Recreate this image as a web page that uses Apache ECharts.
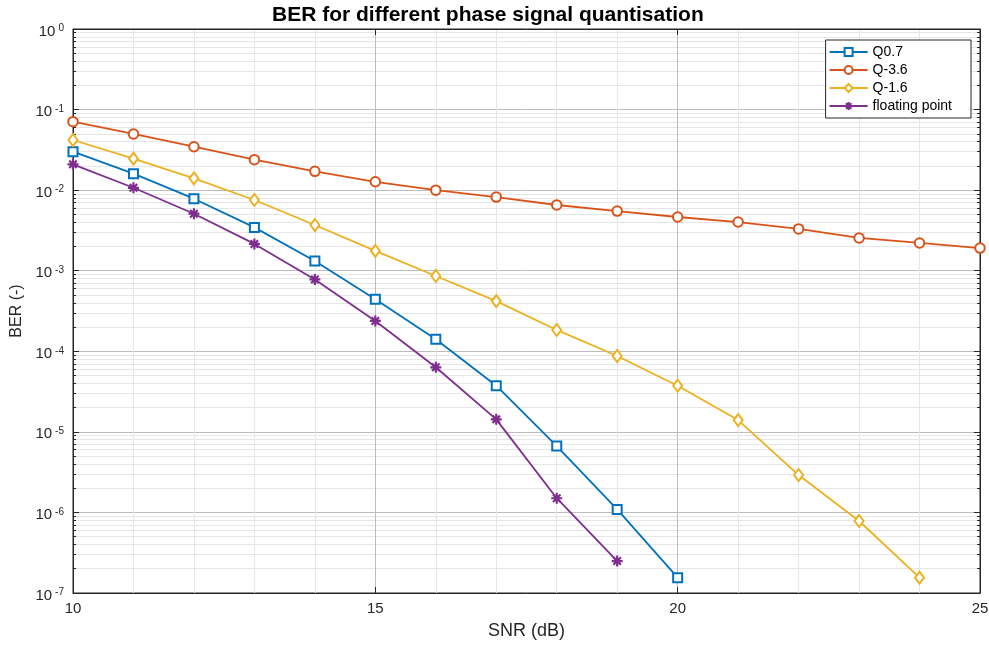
<!DOCTYPE html>
<html>
<head>
<meta charset="utf-8">
<script src="https://cdn.jsdelivr.net/npm/echarts@6/dist/echarts.min.js"></script>
<style>html,body{margin:0;padding:0;background:#fff;}#c{width:989px;height:646px;}</style>
</head>
<body>
<div id="c"></div>
<script>
// SNR values (dB)
const snr = [10, 11, 12, 13, 14, 15, 16, 17, 18, 19, 20, 21, 22, 23, 24, 25];
// BER series
const q07 = [0.030, 0.016, 0.00783, 0.00345, 0.00132, 0.000442, 0.000141, 3.74e-5, 6.67e-6, 1.09e-6, 1.55e-7];
const q36 = [0.0708, 0.0498, 0.0346, 0.0239, 0.0171, 0.0127, 0.0100, 0.0082, 0.00654, 0.0055, 0.00464, 0.00402, 0.0033, 0.00255, 0.00221, 0.00191];
const q16 = [0.0419, 0.0246, 0.0140, 0.00755, 0.00369, 0.00176, 0.00086, 0.00042, 0.000184, 8.74e-5, 3.74e-5, 1.40e-5, 2.91e-6, 7.83e-7, 1.55e-7];
const fp = [0.0209, 0.0107, 0.0051, 0.00215, 0.00078, 2.38e-4, 6.33e-5, 1.43e-5, 1.50e-6, 2.49e-7];
const seriesNames = ['Q0.7', 'Q-3.6', 'Q-1.6', 'floating point'];
// tick labels
const xTicks = [10, 15, 20, 25];
const yDecades = [1e-7, 1e-6, 1e-5, 1e-4, 1e-3, 1e-2, 1e-1, 1];
const yMinor = [];
for (let e = -7; e < 0; e++) { for (let m = 2; m <= 9; m++) { yMinor.push(m * Math.pow(10, e)); } }

const FONT = 'Liberation Sans, Arial, Helvetica, sans-serif';
const AX = '#262626';
const MAJOR = '#bdbdbd';
const MINOR = '#e6e6e6';
const colors = ['#0072BD', '#D95319', '#EDB120', '#7E2F8E'];
const star = 'path://M5 0 L5 10 M0 5 L10 5 M1.6 1.6 L8.4 8.4 M1.6 8.4 L8.4 1.6';
const LW = 1.8;

function pairs(vals) { return vals.map((v, i) => [snr[i], v]); }

const chart = echarts.init(document.getElementById('c'), null, { renderer: 'canvas' });

const logBase = {
  type: 'log', logBase: 10, min: 1e-7, max: 1, gridIndex: 0
};

chart.setOption({
  animation: false,
  backgroundColor: '#fff',
  textStyle: { fontFamily: FONT },
  title: {
    text: 'BER for different phase signal quantisation',
    left: 267, top: 0,
    textStyle: { fontFamily: FONT, fontSize: 21, fontWeight: 'bold', color: '#000' }
  },
  grid: {
    left: 73, right: 9, top: 29, bottom: 53,
    outerBoundsMode: 'none', containLabel: false,
    show: true, borderColor: AX, borderWidth: 1, backgroundColor: 'transparent'
  },
  legend: {
    data: seriesNames,
    orient: 'vertical',
    right: 18, top: 40,
    backgroundColor: '#fff',
    borderColor: AX, borderWidth: 1,
    padding: [5, 19, 5, 3],
    itemWidth: 38, itemHeight: 10, itemGap: 4,
    textStyle: { fontFamily: FONT, fontSize: 14, color: '#000', lineHeight: 14 }
  },
  xAxis: [
    {
      type: 'value', min: 10, max: 25, interval: 5,
      name: 'SNR (dB)', nameLocation: 'middle', nameGap: 29,
      nameTextStyle: { fontFamily: FONT, fontSize: 18, color: AX },
      axisLine: { show: true, lineStyle: { color: AX, width: 1 } },
      axisTick: { show: true, inside: true, length: 6, lineStyle: { color: AX } },
      axisLabel: { fontFamily: FONT, fontSize: 15, color: AX, margin: 8,
        customValues: xTicks },
      splitLine: { show: true, lineStyle: { color: MAJOR, width: 1 } },
      minorTick: { show: false, splitNumber: 5 },
      minorSplitLine: { show: true, lineStyle: { color: MINOR, width: 1 } }
    },
    {
      type: 'value', min: 10, max: 25, interval: 5, position: 'top',
      axisLine: { show: true, lineStyle: { color: AX, width: 1 } },
      axisTick: { show: true, inside: true, length: 6, lineStyle: { color: AX } },
      axisLabel: { show: false },
      splitLine: { show: false }
    }
  ],
  yAxis: [
    Object.assign({}, logBase, {
      position: 'left', interval: 1,
      name: 'BER (-)', nameLocation: 'middle', nameGap: 45, nameRotate: 90,
      nameTextStyle: { fontFamily: FONT, fontSize: 16, color: AX },
      axisLine: { show: true, lineStyle: { color: AX, width: 1 } },
      axisTick: { show: true, inside: true, length: 6, lineStyle: { color: AX } },
      axisLabel: {
        margin: 9,
        formatter: function (v) {
          const e = Math.round(Math.log10(v));
          return '{b|10}{s|' + e + '}';
        },
        rich: {
          b: { fontFamily: FONT, fontSize: 15, lineHeight: 15, color: AX, padding: [5, 0, 0, 0] },
          s: { fontFamily: FONT, fontSize: 10, lineHeight: 10, color: AX, verticalAlign: 'top', padding: [2, 0, 0, 3] }
        }
      },
      splitLine: { show: true, lineStyle: { color: MAJOR, width: 1 } }
    }),
    Object.assign({}, logBase, {
      position: 'right', interval: 1,
      axisLine: { show: true, lineStyle: { color: AX, width: 1 } },
      axisTick: { show: true, inside: true, length: 6, lineStyle: { color: AX } },
      axisLabel: { show: false },
      splitLine: { show: false }
    }),
    Object.assign({}, logBase, {
      position: 'left',
      axisLine: { show: false },
      axisTick: { show: true, inside: true, length: 3, lineStyle: { color: AX }, customValues: yMinor },
      axisLabel: { show: false },
      splitLine: { show: true, lineStyle: { color: MINOR, width: 1 } }
    }),
    Object.assign({}, logBase, {
      position: 'right',
      axisLine: { show: false },
      axisTick: { show: true, inside: true, length: 3, lineStyle: { color: AX }, customValues: yMinor },
      axisLabel: { show: false },
      splitLine: { show: false }
    })
  ],
  series: [
    { name: seriesNames[0], type: 'line', data: pairs(q07), xAxisIndex: 0, yAxisIndex: 0,
      color: colors[0], symbol: 'emptyRect', symbolSize: 9, z: 3,
      lineStyle: { width: LW, color: colors[0] }, itemStyle: { color: colors[0], borderWidth: 1.8 } },
    { name: seriesNames[1], type: 'line', data: pairs(q36), xAxisIndex: 0, yAxisIndex: 0,
      color: colors[1], symbol: 'emptyCircle', symbolSize: 9.5, z: 3,
      lineStyle: { width: LW, color: colors[1] }, itemStyle: { color: colors[1], borderWidth: 1.8 } },
    { name: seriesNames[2], type: 'line', data: pairs(q16), xAxisIndex: 0, yAxisIndex: 0,
      color: colors[2], symbol: 'emptyDiamond', symbolSize: [9, 12], z: 3,
      lineStyle: { width: LW, color: colors[2] }, itemStyle: { color: colors[2], borderWidth: 1.8 } },
    { name: seriesNames[3], type: 'line', data: pairs(fp), xAxisIndex: 0, yAxisIndex: 0,
      color: colors[3], symbol: star, symbolSize: 11, z: 3,
      lineStyle: { width: LW, color: colors[3] },
      itemStyle: { color: colors[3], borderColor: colors[3], borderWidth: 2.2 } }
  ]
});
</script>
</body>
</html>
